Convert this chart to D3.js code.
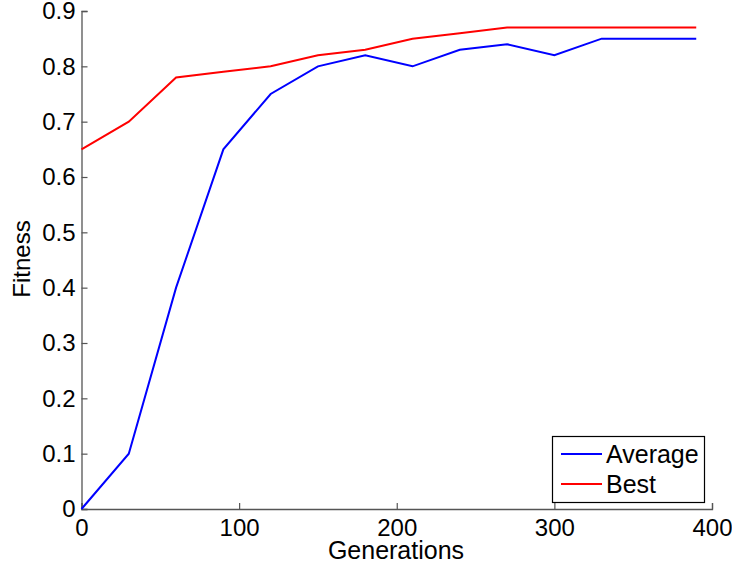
<!DOCTYPE html>
<html><head><meta charset="utf-8">
<script src="https://cdn.jsdelivr.net/npm/d3@7"></script>
<style>body{margin:0;background:#fff}svg{display:block}</style>
</head><body>
<script>
const generations = [0,30,60,90,120,150,180,210,240,270,300,330,360,390];
const average = [0,0.1,0.4,0.65,0.75,0.8,0.82,0.8,0.83,0.84,0.82,0.85,0.85,0.85];
const best = [0.65,0.7,0.78,0.79,0.8,0.82,0.83,0.85,0.86,0.87,0.87,0.87,0.87,0.87];
const xTicks = [0,100,200,300,400];
const yTicks = [0,0.1,0.2,0.3,0.4,0.5,0.6,0.7,0.8,0.9];
const seriesNames = ["Average","Best"];
const seriesColors = ["#0000ff","#ff0000"];

const W=732,H=571;
const svg=d3.select("body").append("svg").attr("width",W).attr("height",H);
const x=d3.scaleLinear().domain([0,400]).range([81.5,712]);
const y=d3.scaleLinear().domain([0,0.9]).range([509,11]);
const font="'Liberation Sans', Arial, Helvetica, sans-serif";
const axisCol="#555";

const xa=svg.append("g").attr("transform","translate(0,509)")
  .call(d3.axisBottom(x).tickValues(xTicks).tickSize(-6).tickPadding(10).tickFormat(d3.format("d")));
const ya=svg.append("g").attr("transform","translate(81.5,0)")
  .call(d3.axisLeft(y).tickValues(yTicks).tickSize(-6).tickPadding(6).tickFormat(d=>d===0?"0":d3.format(".1f")(d)));
[xa,ya].forEach(a=>{
  a.select(".domain").attr("stroke",axisCol).attr("stroke-width",1.3);
  a.selectAll(".tick line").attr("stroke",axisCol).attr("stroke-width",1.2);
  a.selectAll(".tick text").attr("font-family",font).attr("font-size",24).attr("fill","#000");
});
xa.selectAll(".tick text").attr("dy","0.72em");

const line=d3.line().x((d,i)=>x(generations[i])).y(d=>y(d));
[average,best].forEach((s,k)=>{
  svg.append("path").datum(s).attr("d",line).attr("fill","none")
    .attr("stroke",seriesColors[k]).attr("stroke-width",2);
});

svg.append("text").attr("x",396).attr("y",559).attr("text-anchor","middle")
  .attr("font-family",font).attr("font-size",25).text("Generations");
svg.append("text").attr("transform","translate(30,259) rotate(-90)").attr("text-anchor","middle")
  .attr("font-family",font).attr("font-size",24).text("Fitness");

const lg=svg.append("g");
lg.append("rect").attr("x",552.5).attr("y",436.5).attr("width",152).attr("height",66)
  .attr("fill","#fff").attr("stroke","#000").attr("stroke-width",1.2);
seriesNames.forEach((n,k)=>{
  const yy=454+k*30;
  lg.append("line").attr("x1",561).attr("x2",602).attr("y1",yy).attr("y2",yy)
    .attr("stroke",seriesColors[k]).attr("stroke-width",2);
  lg.append("text").attr("x",606).attr("y",yy+9).attr("font-family",font).attr("font-size",25).text(n);
});
</script>
</body></html>
